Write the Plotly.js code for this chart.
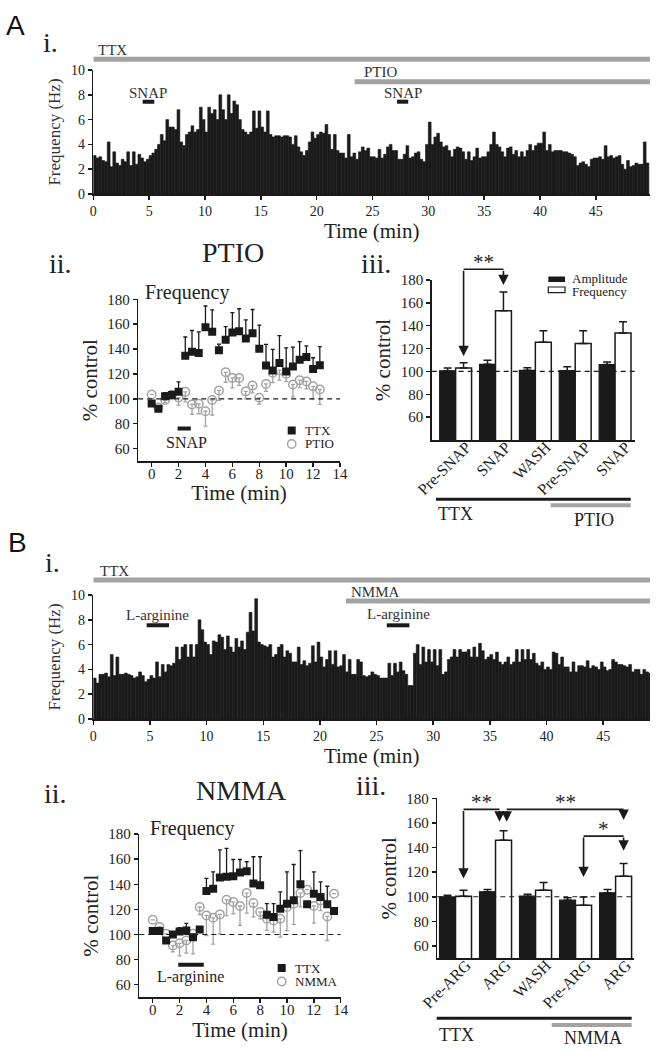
<!DOCTYPE html>
<html><head><meta charset="utf-8">
<script src="https://cdn.plot.ly/plotly-3.0.1.min.js"></script>
<style>html,body{margin:0;padding:0;background:#fff}#chart{width:657px;height:1050px}</style>
</head><body><div id="chart"></div>
<script>
// ---------------- DATA ----------------
// Panel A i: event frequency (Hz), 0.25-min bins starting at 0 min
const freqA = [
3.1,2.9,3.0,2.7, 2.6,4.2,2.2,3.4, 2.5,2.3,2.8,2.6, 3.4,2.3,3.4,2.4, 3.2,2.9,2.6,2.8,
3.1,3.3,3.6,4.0, 4.8,4.3,6.0,5.4, 5.4,5.2,6.8,4.2, 3.9,4.8,5.0,5.5, 5.0,5.2,7.0,6.0,
5.0,7.0,6.5,6.8, 6.0,8.0,6.8,6.0, 8.0,6.5,7.5,7.2, 6.0,5.2,5.0,4.8, 5.0,6.7,5.3,6.7,
5.4,5.0,6.7,4.8, 4.6,4.7,4.7,4.6, 4.7,4.7,4.6,4.0, 4.7,3.8,3.4,3.1, 3.5,4.2,5.0,4.5,
4.8,5.0,4.9,5.6, 4.8,3.6,4.8,3.5, 3.3,3.3,2.9,4.8, 3.0,3.3,2.8,3.4, 3.8,3.5,3.7,3.0,
3.0,2.9,3.6,2.9, 3.2,3.8,4.0,3.5, 3.5,2.8,2.8,3.2, 3.9,2.9,3.0,3.3, 3.4,2.8,2.6,4.0,
5.8,4.0,4.6,4.9, 4.2,3.8,3.9,3.5, 3.0,3.6,3.8,3.7, 3.4,2.8,3.4,2.7, 3.0,3.7,2.9,3.0,
3.0,3.4,4.0,5.0, 4.0,3.8,3.4,3.0, 3.7,3.8,3.2,3.5, 3.0,3.4,3.0,3.5, 4.0,3.5,3.9,4.1,
4.1,5.0,3.5,4.0, 3.4,3.5,3.5,3.5, 3.4,3.4,3.3,3.2, 3.0,2.3,2.5,2.6, 2.4,2.2,2.8,2.9,
2.9,3.0,2.8,3.9, 3.0,3.1,2.9,3.0, 3.1,2.4,2.0,2.7, 2.2,2.3,2.5,2.4, 2.4,4.2,2.5
];
// Panel B i: event frequency (Hz), 0.25-min bins starting at 0 min
const freqB = [
3.3,2.9,3.6,3.6, 3.7,3.4,5.2,3.5, 5.0,3.6,3.6,3.7, 3.6,3.5,3.3,3.4, 3.8,3.5,3.0,3.2,
3.5,3.3,4.6,3.4, 4.4,3.8,4.4,4.3, 4.5,5.8,4.8,5.8, 6.0,5.0,6.0,5.0, 6.0,8.0,7.2,6.2,
6.0,5.2,6.3,6.2, 6.8,6.6,5.6,6.7, 5.8,5.4,6.5,5.8, 6.3,5.6,7.0,8.6, 7.1,9.7,6.2,6.0,
5.9,5.8,6.0,5.0, 5.2,5.8,6.0,5.0, 5.5,5.3,4.6,4.6, 5.8,4.4,4.7,4.3, 4.5,5.9,4.6,6.2,
5.0,4.2,4.8,5.5, 4.4,5.5,4.2,4.3, 5.2,3.8,4.8,3.6, 3.6,4.8,4.6,3.5, 3.4,3.5,3.8,3.6,
3.5,3.3,3.3,3.3, 4.5,3.5,4.5,3.8, 4.6,3.9,3.6,2.7, 2.7,5.3,6.0,4.4, 5.8,4.6,5.6,4.6,
5.6,4.3,5.6,3.6, 3.8,4.8,5.0,5.6, 5.0,5.6,5.4,5.4, 5.6,5.0,5.8,5.0, 6.1,5.5,4.8,5.0,
5.2,4.8,5.4,4.6, 4.4,4.6,5.0,4.4, 4.6,5.6,4.6,5.6, 4.8,5.6,4.8,5.3, 4.5,4.3,4.6,4.0,
4.2,4.0,5.4,5.3, 4.4,5.0,4.2,4.2, 3.8,4.6,3.8,4.3, 4.3,4.2,4.7,4.1, 4.3,4.2,4.0,4.6,
4.2,3.9,4.0,4.8, 4.6,4.4,4.4,4.3, 4.2,4.4,3.8,4.0, 4.0,3.6,4.0,3.8, 3.7
];
const binStart = 0.125, binWidth = 0.25;
const endA = 49.85, endB = 49.13;

// Drug applications (min)
const protoA_names = ['TTX','PTIO','SNAP','SNAP'];
const protoA_start = [0, 23.4, 4.42, 27.2];
const protoA_end   = [endA, endA, 5.46, 28.2];
const protoB_names = ['TTX','NMMA','L-arginine','L-arginine'];
const protoB_start = [0, 22.3, 4.71, 25.9];
const protoB_end   = [endB, endB, 6.68, 27.9];

// Panel A ii: % control time course
const tA = [0,0.5,1,1.5,2,2.5,3,3.5,4,4.5,5,5.5,6,6.5,7,7.5,8,8.5,9,9.5,10,10.5,11,11.5,12,12.5];
const ttxA    = [96.3,92,102,103,105.6,134.7,137.9,136.8,157.6,154,139,147.5,153.3,154.4,148.5,152.8,140.3,126.7,122.7,128.8,122,126,131.5,133.6,124,127];
const ttxA_err= [0,0,3,3,8,15,17,17,17,17.5,5,10.5,16,18,15,19,19,17,17,22,19,15.6,14.5,9,9,15];
const ptioA    = [103.5,93,99,103,101,105.6,95.5,96,90,99,106.7,121.3,116.8,116.8,106,110.7,100.8,112,121,123,120,111.5,115,114,110,107.5];
const ptioA_err= [0,3,2,3,6,8,8,8,12,12,8,8,8,6,6,6,5,6,8,8,6,10,6,6,10,12];
const snapA_bar = [1.93, 2.91];

// Panel B ii
const tB = [0,0.5,1,1.5,2,2.5,3,3.5,4,4.5,5,5.5,6,6.5,7,7.5,8,8.5,9,9.5,10,10.5,11,11.5,12,12.5,13,13.5];
const ttxB    = [102.7,102.7,95.2,100,102.4,103.2,97.9,104,134.7,136.5,145.3,145.9,146.4,149.3,150.4,140.5,139.2,115.7,113.9,120.5,124.5,127.2,140,124,132.5,129.9,124,118.7];
const ttxB_err= [0,3,0,0,3,5.6,0,0,10,13.4,22,22.6,13.3,10.4,7.5,21.4,22.7,8.8,10.6,13.4,25.4,28.5,26.7,0,17.4,12,14.4,0];
const nmmaB    = [111.7,105.9,100.5,91.2,93,95.2,100.5,121.9,115.2,113.3,116,127.7,125.9,122.7,133,125,117.9,112.5,111.2,112.5,121.9,124.5,133,135.7,122.7,127,114.4,132.5];
const nmmaB_err= [0,0,0,5,10,10,16,6,16,21,15.5,12.7,9.4,15.5,16,11,5.4,9.3,9.3,14.6,18.9,16.5,11,0,13.7,8,19.2,0];
const argB_bar = [1.9, 3.8];

// Panel A iii
const catsA = ['Pre-SNAP','SNAP','WASH','Pre-SNAP','SNAP'];
const ampA = [100.4,106.2,101,100.7,106];
const ampA_err = [2.6,3.6,2.3,3.3,2.3];
const frqA = [103,153,125.6,124.4,133.7];
const frqA_err = [4.7,16.5,9.9,11.1,9.7];
// Panel B iii
const catsB = ['Pre-ARG','ARG','WASH','Pre-ARG','ARG'];
const ampB = [99.9,104,100.5,97.2,103.2];
const ampB_err = [1.4,1.9,1.5,1.9,2.7];
const frqB = [100.5,146,105.3,93.1,116.7];
const frqB_err = [4.8,7.7,6.3,6.8,10.3];

// significance brackets: [from x, to x, top value, tip value at from, tip value at to, label]
const sigA = [[0.2,1.2,189.4,113.3,175.6,'**']];
const sigB = [[0.2,1.1,171,114.8,161,'**'],[1.28,4.2,171,161,162.4,'**'],[3.2,4.2,149.3,116,137.4,'*']];

// ---------------- HELPERS ----------------
const W = 657, H = 1050;
const PX = p => p / W;
const PY = p => 1 - p / H;
const SERIF = 'Liberation Serif';
const SANS = 'Liberation Sans';
const INK = '#1a1a1a';
const GRAY = '#a3a3a3';

function axis(o) {
  return Object.assign({
    showline: true, linecolor: INK, linewidth: 1.5, ticks: 'outside', tickcolor: INK,
    tickwidth: 1.5, ticklen: 4, showgrid: false, zeroline: false, fixedrange: true,
    tickfont: {family: SERIF, size: 15, color: '#222'}
  }, o);
}

const traces = [];
traces.push({type:'bar', xaxis:'x', yaxis:'y', y: freqA, x0: binStart, dx: binWidth, width: binWidth,
  marker:{color: INK, line:{color: INK, width: 0.6}}, hoverinfo:'skip', showlegend:false});
traces.push({type:'bar', xaxis:'x4', yaxis:'y4', y: freqB, x0: binStart, dx: binWidth, width: binWidth,
  marker:{color: INK, line:{color: INK, width: 0.6}}, hoverinfo:'skip', showlegend:false});

function zeros(n){ return new Array(n).fill(0); }
function timeCourse(xa, ya, t, ttx, ttxErr, other, otherErr) {
  traces.push({type:'scatter', mode:'markers', xaxis:xa, yaxis:ya, x:t, y:other,
    marker:{symbol:'circle-open', size:8.5, color:GRAY, line:{width:1.5, color:GRAY}},
    error_y:{type:'data', symmetric:false, array:zeros(t.length), arrayminus:otherErr, color:GRAY, thickness:1.3, width:2},
    showlegend:false, hoverinfo:'skip'});
  traces.push({type:'scatter', mode:'markers', xaxis:xa, yaxis:ya, x:t, y:ttx,
    marker:{symbol:'square', size:8, color:INK},
    error_y:{type:'data', symmetric:false, array:ttxErr, arrayminus:zeros(t.length), color:INK, thickness:1.3, width:2},
    showlegend:false, hoverinfo:'skip'});
}
timeCourse('x2','y2', tA, ttxA, ttxA_err, ptioA, ptioA_err);
timeCourse('x5','y5', tB, ttxB, ttxB_err, nmmaB, nmmaB_err);

function barPair(xa, ya, amp, ampErr, frq, frqErr) {
  const x = [0,1,2,3,4];
  traces.push({type:'bar', xaxis:xa, yaxis:ya, x:x, y:amp,
    marker:{color:INK, line:{color:INK, width:1.2}},
    error_y:{type:'data', symmetric:false, array:ampErr, arrayminus:zeros(5), color:INK, thickness:1.5, width:4},
    showlegend:false, hoverinfo:'skip'});
  traces.push({type:'bar', xaxis:xa, yaxis:ya, x:x, y:frq,
    marker:{color:'#fff', line:{color:INK, width:1.5}},
    error_y:{type:'data', symmetric:false, array:frqErr, arrayminus:zeros(5), color:INK, thickness:1.5, width:4},
    showlegend:false, hoverinfo:'skip'});
}
barPair('x3','y3', ampA, ampA_err, frqA, frqA_err);
barPair('x6','y6', ampB, ampB_err, frqB, frqB_err);

// ---------------- LAYOUT ----------------
const histTick = {family: SERIF, size: 14, color: '#222'};
const tTitle = {family:SERIF, size:21, color:'#222'};
const catFont = {family:SERIF, size:16, color:'#222'};
const layout = {
  width: W, height: H, margin:{l:0, r:0, t:0, b:0}, paper_bgcolor:'#fff', plot_bgcolor:'rgba(0,0,0,0)',
  showlegend:false, barmode:'group', bargap:0.2, bargroupgap:0,
  font:{family:SERIF, color:'#222', size:15},
  xaxis: axis({domain:[PX(93.3), PX(650)], anchor:'y', range:[0, endA], tickvals:[0,5,10,15,20,25,30,35,40,45], tickfont:histTick,
    title:{text:'Time (min)', font:tTitle, standoff:4}}),
  yaxis: axis({domain:[PY(194), PY(70)], anchor:'x', range:[0,10], tickvals:[0,2,4,6,8,10], tickfont:histTick,
    title:{text:'Frequency (Hz)', font:{family:SERIF, size:17, color:'#333'}, standoff:6}}),
  xaxis2: axis({domain:[PX(138.2), PX(340)], anchor:'y2', range:[-1,14], tickvals:[0,2,4,6,8,10,12,14], ticklabelstandoff:-6,
    title:{text:'Time (min)', font:tTitle, standoff:2}}),
  yaxis2: axis({domain:[PY(461), PY(299.3)], anchor:'x2', range:[50,180], tickvals:[60,80,100,120,140,160,180],
    title:{text:'% control', font:tTitle, standoff:4}}),
  xaxis3: axis({domain:[PX(431.7), PX(635)], anchor:'y3', range:[-0.6,4.5], ticks:'', tickvals:[0.27,1.27,2.27,3.27,4.27],
    ticktext:catsA, tickangle:-45, ticklabelstandoff:-10, tickfont:catFont}),
  yaxis3: axis({domain:[PY(440), PY(280)], anchor:'x3', range:[40,180], tickvals:[60,80,100,120,140,160,180],
    title:{text:'% control', font:tTitle, standoff:4}}),
  xaxis4: axis({domain:[PX(93.3), PX(650)], anchor:'y4', range:[0, endB], tickvals:[0,5,10,15,20,25,30,35,40,45], tickfont:histTick,
    title:{text:'Time (min)', font:tTitle, standoff:4}}),
  yaxis4: axis({domain:[PY(719), PY(595)], anchor:'x4', range:[0,10], tickvals:[0,2,4,6,8,10], tickfont:histTick,
    title:{text:'Frequency (Hz)', font:{family:SERIF, size:17, color:'#333'}, standoff:6}}),
  xaxis5: axis({domain:[PX(139.3), PX(340.7)], anchor:'y5', range:[-1,14], tickvals:[0,2,4,6,8,10,12,14], ticklabelstandoff:-6,
    title:{text:'Time (min)', font:tTitle, standoff:2}}),
  yaxis5: axis({domain:[PY(997.3), PY(834)], anchor:'x5', range:[50,180], tickvals:[60,80,100,120,140,160,180],
    title:{text:'% control', font:tTitle, standoff:4}}),
  xaxis6: axis({domain:[PX(437.3), PX(634)], anchor:'y6', range:[-0.455,4.46], ticks:'', tickvals:[0.27,1.27,2.27,3.27,4.27],
    ticktext:catsB, tickangle:-45, ticklabelstandoff:-10, tickfont:catFont}),
  yaxis6: axis({domain:[PY(958.3), PY(798.3)], anchor:'x6', range:[50,180], tickvals:[60,80,100,120,140,160,180],
    title:{text:'% control', font:tTitle, standoff:4}})
};

// value -> paper fraction along a y axis (for decorations placed above the axis range)
function yPaper(yaName, v) {
  const a = layout[yaName];
  return a.domain[0] + (v - a.range[0]) / (a.range[1] - a.range[0]) * (a.domain[1] - a.domain[0]);
}

const shapes = [];
const annotations = [];
function txt(text, x, y, size, opts) {
  annotations.push(Object.assign({text:text, x:PX(x), y:PY(y), xref:'paper', yref:'paper',
    showarrow:false, xanchor:'center', yanchor:'middle',
    font:{family:SERIF, size:size, color:'#222'}}, opts||{}));
}

// drug bars on histograms
function protocol(xa, names, starts, ends, rowsPx, labelRowsPx, labelOffset) {
  for (let i = 0; i < names.length; i++) {
    const gray = i < 2;
    shapes.push({type:'line', xref:xa, yref:'paper', x0:starts[i], x1:ends[i], y0:PY(rowsPx[i]), y1:PY(rowsPx[i]),
      line:{color: gray ? GRAY : INK, width: gray ? 5 : 4}});
    annotations.push({text:names[i], xref:xa, yref:'paper',
      x: gray ? starts[i] + labelOffset[i] : (starts[i]+ends[i])/2,
      xanchor: gray ? 'left' : 'center', y: PY(labelRowsPx[i]), yanchor:'middle', showarrow:false,
      font:{family:SERIF, size:15, color:'#333'}});
  }
}
protocol('x', protoA_names, protoA_start, protoA_end, [59.3, 81.7, 101.7, 101.7], [50, 72.5, 93, 93], [0.25, 0.7]);
protocol('x4', protoB_names, protoB_start, protoB_end, [580, 601, 625.3, 625.3], [571, 591.7, 615, 614.3], [0.4, 0.3]);

// dashed 100% lines
[['x2','y2'],['x3','y3'],['x5','y5'],['x6','y6']].forEach(([xa,ya]) => {
  shapes.push({type:'line', xref:xa+' domain', yref:ya, x0:0, x1:1, y0:100, y1:100, layer:'above',
    line:{color:INK, width:1.2, dash:'5px,4px'}});
});

// application bars on time courses
shapes.push({type:'line', xref:'x2', yref:'y2', x0:snapA_bar[0], x1:snapA_bar[1], y0:76.2, y1:76.2, line:{color:INK, width:4}});
annotations.push({text:'SNAP', xref:'x2', yref:'y2', x:2.6, y:65, showarrow:false, font:{family:SERIF, size:16, color:'#222'}});
shapes.push({type:'line', xref:'x5', yref:'y5', x0:argB_bar[0], x1:argB_bar[1], y0:76, y1:76, line:{color:INK, width:4}});
annotations.push({text:'L-arginine', xref:'x5', yref:'y5', x:2.78, y:66, showarrow:false, font:{family:SERIF, size:16, color:'#222'}});

// "Frequency" labels
txt('Frequency', 143, 293, 20, {xanchor:'left'});
txt('Frequency', 148, 828, 20, {xanchor:'left'});

// legends of time courses
function tcLegend(x, y1, y2, name1, name2) {
  shapes.push({type:'rect', xref:'paper', yref:'paper', x0:PX(x-4), x1:PX(x+4), y0:PY(y1+4), y1:PY(y1-4), fillcolor:INK, line:{width:0}});
  shapes.push({type:'circle', xref:'paper', yref:'paper', x0:PX(x-4.2), x1:PX(x+4.2), y0:PY(y2+4.2), y1:PY(y2-4.2), fillcolor:'rgba(0,0,0,0)', line:{color:GRAY, width:1.4}});
  txt(name1, x+11, y1, 13, {xanchor:'left'});
  txt(name2, x+11, y2, 13, {xanchor:'left'});
}
tcLegend(291.7, 430.5, 444, 'TTX', 'PTIO');
tcLegend(281.7, 968, 981.5, 'TTX', 'NMMA');

// legend of bar chart A iii
shapes.push({type:'rect', xref:'paper', yref:'paper', x0:PX(548.3), x1:PX(565), y0:PY(282), y1:PY(276.5), fillcolor:INK, line:{width:0}});
shapes.push({type:'rect', xref:'paper', yref:'paper', x0:PX(548.3), x1:PX(565), y0:PY(292.7), y1:PY(287), fillcolor:'#fff', line:{color:INK, width:1.2}});
txt('Amplitude', 570, 278, 13, {xanchor:'left'});
txt('Frequency', 570, 291, 13, {xanchor:'left'});

// significance brackets
function brackets(xa, ya, list) {
  list.forEach(([a, b, top, tipA, tipB, label]) => {
    const common = {xref:xa, yref:ya, axref:xa, ayref:ya, text:'', showarrow:true, arrowcolor:INK,
      arrowwidth:1.6, standoff:0, startstandoff:0, arrowhead:2, arrowsize:1.3};
    annotations.push(Object.assign({}, common, {x:a, y:tipA, ax:a, ay:top}));
    annotations.push(Object.assign({}, common, {x:b, y:tipB, ax:b, ay:top}));
    const yp = yPaper(ya.replace('y','yaxis'), top);
    shapes.push({type:'line', xref:xa, yref:'paper', x0:a, x1:b, y0:yp, y1:yp, line:{color:INK, width:1.6}});
    annotations.push({text:label, xref:xa, yref:'paper', x:(a+b)/2, y:yp, yanchor:'bottom', yshift:-7, showarrow:false,
      font:{family:SERIF, size:21, color:'#222'}});
  });
}
brackets('x3','y3', sigA);
brackets('x6','y6', sigB);

// treatment lines under bar charts
function underLines(y1, y2, x0, xg, x1, lab1, lab2, ty1, ty2, tx2) {
  shapes.push({type:'line', xref:'paper', yref:'paper', x0:PX(x0), x1:PX(x1), y0:PY(y1), y1:PY(y1), line:{color:INK, width:3}});
  shapes.push({type:'line', xref:'paper', yref:'paper', x0:PX(xg), x1:PX(x1), y0:PY(y2), y1:PY(y2), line:{color:GRAY, width:4}});
  txt(lab1, x0, ty1, 18, {xanchor:'left'});
  txt(lab2, tx2, ty2, 18, {xanchor:'left'});
}
underLines(499.3, 505.3, 436, 550.7, 630.7, 'TTX', 'PTIO', 514, 520, 572);
underLines(1018.3, 1025, 436.7, 551.7, 631.7, 'TTX', 'NMMA', 1035, 1038.3, 561.7);

// panel labels
txt('A', 15, 25, 28, {font:{family:SANS, size:28, color:'#111'}});
txt('i.', 50, 42, 28);
txt('ii.', 60, 263, 28);
txt('PTIO', 233, 253, 28);
txt('iii.', 376, 263, 28);
txt('B', 17, 542, 28, {font:{family:SANS, size:28, color:'#111'}});
txt('i.', 52, 562, 28);
txt('ii.', 55, 793, 28);
txt('NMMA', 241, 790, 28);
txt('iii.', 371, 785, 28);

layout.shapes = shapes;
layout.annotations = annotations;

Plotly.newPlot('chart', traces, layout, {staticPlot:true, displayModeBar:false});
</script>
</body></html>
